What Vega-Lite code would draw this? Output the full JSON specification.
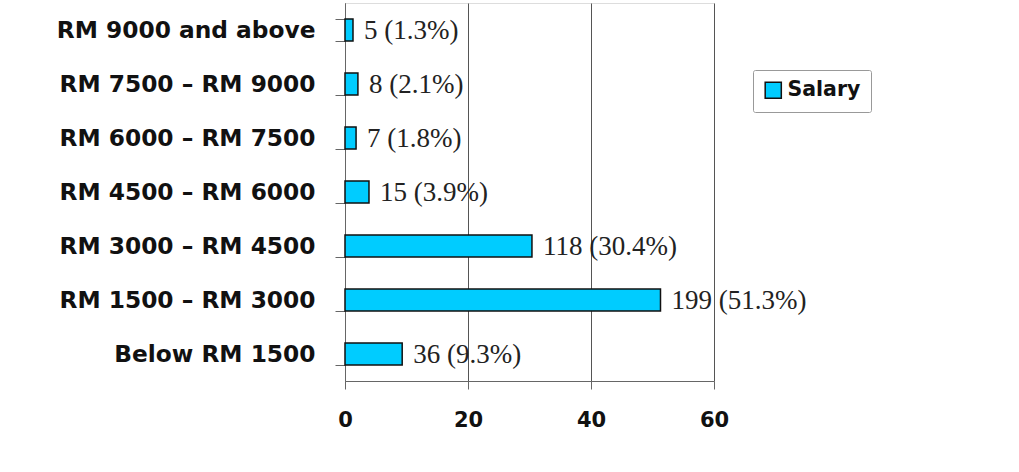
{
  "$schema": "https://vega.github.io/schema/vega-lite/v6.json",
  "autosize": "none",
  "padding": {"left": 345, "top": 3, "right": 305, "bottom": 91},
  "width": 369,
  "height": 378,
  "background": "white",
  "data": {
    "values": [
      {"category": "RM 9000 and above", "count": 5, "percent": 1.3, "label": "5 (1.3%)", "series": "Salary"},
      {"category": "RM 7500 – RM 9000", "count": 8, "percent": 2.1, "label": "8 (2.1%)", "series": "Salary"},
      {"category": "RM 6000 – RM 7500", "count": 7, "percent": 1.8, "label": "7 (1.8%)", "series": "Salary"},
      {"category": "RM 4500 – RM 6000", "count": 15, "percent": 3.9, "label": "15 (3.9%)", "series": "Salary"},
      {"category": "RM 3000 – RM 4500", "count": 118, "percent": 30.4, "label": "118 (30.4%)", "series": "Salary"},
      {"category": "RM 1500 – RM 3000", "count": 199, "percent": 51.3, "label": "199 (51.3%)", "series": "Salary"},
      {"category": "Below RM 1500", "count": 36, "percent": 9.3, "label": "36 (9.3%)", "series": "Salary"}
    ]
  },
  "encoding": {
    "y": {
      "field": "category",
      "type": "nominal",
      "sort": null,
      "title": null,
      "scale": {"paddingInner": 0.59, "paddingOuter": 0.295},
      "axis": {
        "tickBand": "extent",
        "tickSize": 10,
        "tickColor": "#666",
        "domainColor": "#666",
        "labelFont": "DejaVu Sans",
        "labelFontWeight": "bold",
        "labelFontSize": 23.3,
        "labelColor": "#111",
        "labelPadding": 20,
        "labelLimit": 400,
        "grid": false
      }
    }
  },
  "layer": [
    {
      "mark": {"type": "bar", "stroke": "#111", "strokeWidth": 1.5},
      "encoding": {
        "x": {
          "field": "percent",
          "type": "quantitative",
          "title": null,
          "scale": {"domain": [0, 60], "nice": false},
          "axis": {
            "values": [0, 20, 40, 60],
            "labelFlush": false,
            "grid": true,
            "gridColor": "#555",
            "gridWidth": 1,
            "tickSize": 8,
            "tickColor": "#666",
            "domainColor": "#666",
            "labelFont": "DejaVu Sans",
            "labelFontWeight": "bold",
            "labelFontSize": 21,
            "labelColor": "#111",
            "labelPadding": 20
          }
        },
        "color": {
          "field": "series",
          "type": "nominal",
          "scale": {"range": ["#00CCFF"]},
          "legend": {
            "title": null,
            "orient": "none",
            "legendX": 408,
            "legendY": 67,
            "symbolType": "square",
            "symbolSize": 260,
            "symbolStrokeColor": "#111",
            "symbolStrokeWidth": 1.5,
            "labelFont": "DejaVu Sans",
            "labelFontWeight": "bold",
            "labelFontSize": 20.5,
            "labelColor": "#111",
            "strokeColor": "#999",
            "fillColor": "white",
            "padding": 10,
            "cornerRadius": 2
          }
        }
      }
    },
    {
      "mark": {"type": "text", "align": "left", "baseline": "middle", "dx": 11, "dy": 1, "font": "Liberation Serif", "fontSize": 27, "color": "#222"},
      "encoding": {
        "x": {"field": "percent", "type": "quantitative"},
        "text": {"field": "label"}
      }
    }
  ]
}
